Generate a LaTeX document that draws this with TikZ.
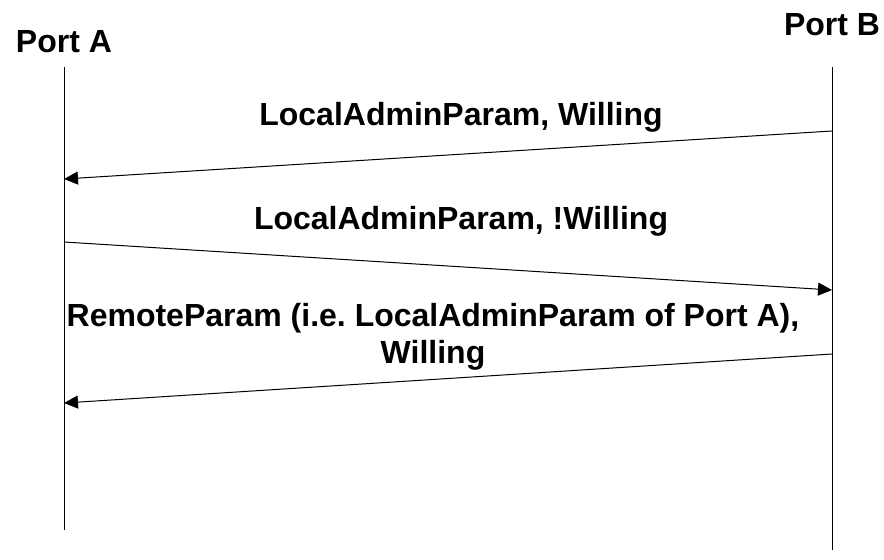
\documentclass[tikz,border=0pt]{standalone}
\usepackage{fontspec}
\setmainfont{Liberation Sans}
\usetikzlibrary{arrows.meta}
\tikzset{
  portlabel/.style={font=\fontsize{16}{19}\selectfont\bfseries, anchor=base, inner sep=0pt},
  msglabel/.style={font=\fontsize{16}{18.5}\selectfont\bfseries, anchor=base, inner sep=0pt, align=center},
  lifeline/.style={line width=0.5pt},
  msg/.style={line width=0.5pt, -{Triangle[length=7pt,width=6.5pt]}}
}
\begin{document}
\begin{tikzpicture}[x=0.5pt,y=-0.5pt]
\useasboundingbox (0,0) rectangle (884,559);
% ports
\node[portlabel] (portA) at (64,52) {Port A};
\node[portlabel] (portB) at (832,35) {Port B};
\coordinate (aTop) at (64,67); \coordinate (aEnd) at (64,530);
\coordinate (bTop) at (832,67); \coordinate (bEnd) at (832,550);
\draw[lifeline] (aTop)--(aEnd);
\draw[lifeline] (bTop)--(bEnd);
% messages
\coordinate (b1) at (832,131); \coordinate (a1) at (64,179);
\coordinate (a2) at (64,242); \coordinate (b2) at (832,290);
\coordinate (b3) at (832,354); \coordinate (a3) at (64,403);
\draw[msg] (b1)--(a1);
\draw[msg] (a2)--(b2);
\draw[msg] (b3)--(a3);
\node[msglabel] (willA) at (461,125) {LocalAdminParam, Willing};
\node[msglabel] (notwillA) at (461,229) {LocalAdminParam, !Willing};
\node[msglabel] (remoteB) at (433,363) {RemoteParam (i.e.\ LocalAdminParam of Port A),\\Willing};
\end{tikzpicture}
\end{document}
